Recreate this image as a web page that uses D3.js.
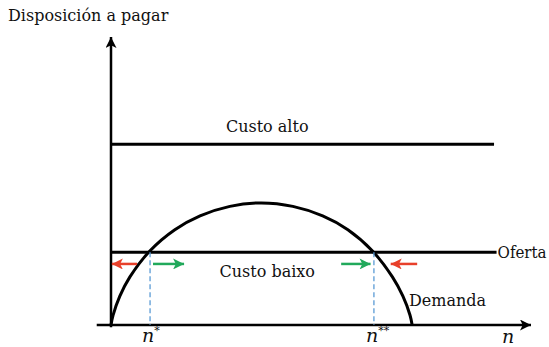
<!DOCTYPE html>
<html>
<head>
<meta charset="utf-8">
<script src="https://cdn.jsdelivr.net/npm/d3@7"></script>
<style>
  body { margin: 0; background: #fff; }
  text { font-family: "DejaVu Serif", serif; fill: #111; }
</style>
</head>
<body>
<svg id="chart" width="549" height="347"></svg>
<script>
// values (n on the x axis, willingness to pay on y)
var custoAlto = 62.8;
var custoBaixo = 25.3;
var lineEnd = [91.2, 91.8];           // where the two cost lines stop
var demandaN = [0, 0.5, 2.1, 4.5, 9.3, 15.2, 21.2, 28.3, 35.8, 43.3, 50.4, 56.4, 62.2, 67.0, 69.5, 71.2, 71.7];
var demandaY = [0, 3.4, 10.0, 16.7, 25.8, 33.1, 37.9, 41.2, 42.4, 41.2, 37.9, 33.1, 25.8, 16.7, 10.0, 3.4, 0];
var equilibrio = [9.3, 62.6];         // n*, n**
var equilLabels = ["*", "**"];
var setas = [
  { from: 6.2, to: 0.2, color: "#e8402a" },
  { from: 10.0, to: 17.4, color: "#21a95b" },
  { from: 54.8, to: 61.8, color: "#21a95b" },
  { from: 72.9, to: 66.6, color: "#e8402a" }
];
var setaY = 21.2;

var svg = d3.select("#chart");
var x = d3.scaleLinear().domain([0, 100]).range([111, 531]);
var y = d3.scaleLinear().domain([0, 100]).range([325, 37]);

var defs = svg.append("defs");
function marker(id, color, w, h) {
  defs.append("marker")
    .attr("id", id).attr("viewBox", "0 0 10 10")
    .attr("refX", 10).attr("refY", 5)
    .attr("markerUnits", "userSpaceOnUse")
    .attr("markerWidth", w).attr("markerHeight", h)
    .attr("orient", "auto")
    .append("path").attr("d", "M0,0 L10,5 L0,10 L2.5,5 Z").attr("fill", color);
}
marker("axisHead", "#000", 13, 11);
setas.forEach(function (s, i) { marker("seta" + i, s.color, 12, 11); });

// axes
svg.append("line")
  .attr("x1", x(-3.4)).attr("x2", x(100)).attr("y1", y(0)).attr("y2", y(0))
  .attr("stroke", "#000").attr("stroke-width", 2.5).attr("marker-end", "url(#axisHead)");
svg.append("line")
  .attr("x1", x(0)).attr("x2", x(0)).attr("y1", y(-0.8)).attr("y2", y(100))
  .attr("stroke", "#000").attr("stroke-width", 2.5).attr("marker-end", "url(#axisHead)");

// demand curve
var pts = demandaN.map(function (n, i) { return [n, demandaY[i]]; });
svg.append("path")
  .attr("d", d3.line().x(function (d) { return x(d[0]); }).y(function (d) { return y(d[1]); })
    .curve(d3.curveCatmullRom)(pts))
  .attr("fill", "none").attr("stroke", "#000").attr("stroke-width", 3);

// cost lines
svg.append("line")
  .attr("x1", x(0)).attr("x2", x(lineEnd[0])).attr("y1", y(custoAlto)).attr("y2", y(custoAlto))
  .attr("stroke", "#000").attr("stroke-width", 3);
svg.append("line")
  .attr("x1", x(0)).attr("x2", x(lineEnd[1])).attr("y1", y(custoBaixo)).attr("y2", y(custoBaixo))
  .attr("stroke", "#000").attr("stroke-width", 3);

// dashed guides
svg.selectAll(".guia").data(equilibrio).enter().append("line")
  .attr("x1", function (d) { return x(d); }).attr("x2", function (d) { return x(d); })
  .attr("y1", y(custoBaixo)).attr("y2", y(0))
  .attr("stroke", "#5b9bd5").attr("stroke-width", 1.3).attr("stroke-dasharray", "5,3");

// movement arrows
svg.selectAll(".seta").data(setas).enter().append("line")
  .attr("x1", function (d) { return x(d.from); }).attr("x2", function (d) { return x(d.to); })
  .attr("y1", y(setaY)).attr("y2", y(setaY))
  .attr("stroke", function (d) { return d.color; }).attr("stroke-width", 2.5)
  .attr("marker-end", function (d, i) { return "url(#seta" + i + ")"; });

// labels
function label(t, px, py, size, anchor) {
  return svg.append("text").attr("x", px).attr("y", py)
    .attr("font-size", size).attr("text-anchor", anchor || "start").text(t);
}
label("Disposición a pagar", 8, 21, 16);
label("Custo alto", x(37.2), y(custoAlto) - 12, 16, "middle");
label("Custo baixo", x(37.2), y(custoBaixo) + 25, 16, "middle");
label("Oferta", x(lineEnd[1]) + 1, y(custoBaixo) + 6, 16)
  .attr("textLength", 49).attr("lengthAdjust", "spacingAndGlyphs");
label("Demanda", 409, 306, 16);

svg.selectAll(".nlab").data(equilibrio).enter().append("text")
  .attr("x", function (d) { return x(d) - 8; }).attr("y", 342)
  .attr("font-size", 19).attr("font-style", "italic")
  .each(function (d, i) {
    var t = d3.select(this);
    t.append("tspan").text("n");
    t.append("tspan").attr("dy", -8).attr("font-size", 11).attr("font-style", "normal").text(equilLabels[i]);
  });
label("n", 502, 343, 19).attr("font-style", "italic");
</script>
</body>
</html>
